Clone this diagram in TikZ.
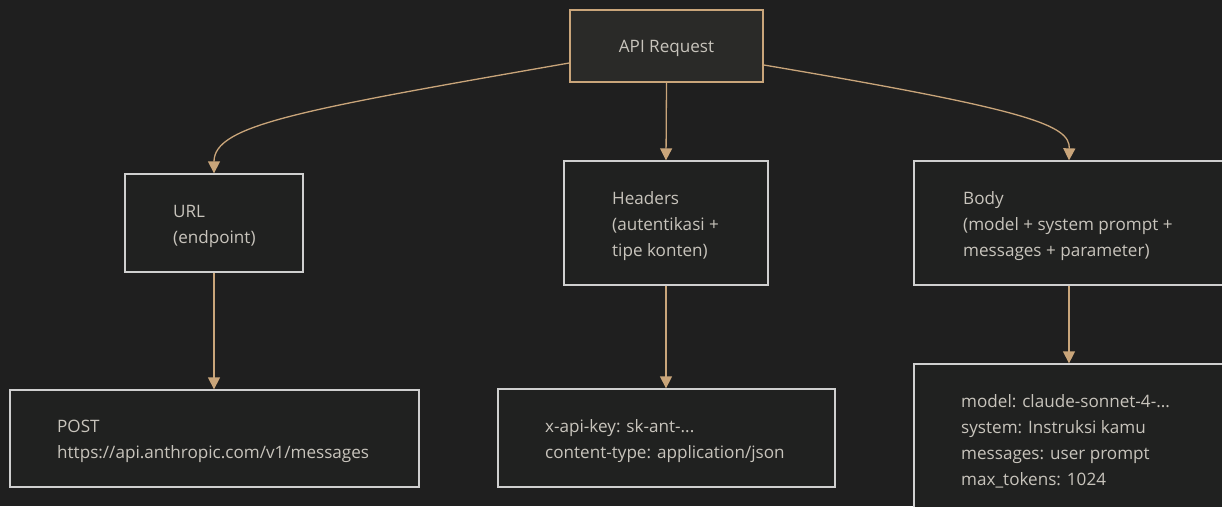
\documentclass[tikz,border=0pt]{standalone}
\usepackage{fontspec}
\setmainfont{Open Sans}
\usetikzlibrary{arrows.meta}
\definecolor{bg}{HTML}{1F1F1F}
\definecolor{topfill}{HTML}{2A2A28}
\definecolor{boxfill}{HTML}{202120}
\definecolor{tan}{HTML}{C9A57A}
\definecolor{boxline}{HTML}{CFCFCF}
\definecolor{txt}{HTML}{C8C4BC}
\begin{document}
\begin{tikzpicture}[x=1pt,y=-1pt,
  box/.style={draw=boxline, line width=1.3pt, fill=boxfill, inner sep=0pt},
  topbox/.style={draw=tan, line width=1.6pt, fill=topfill, inner sep=0pt},
  lbl/.style={text=txt, align=left, anchor=west, inner sep=0pt, font=\fontsize{17.1}{26}\selectfont},
  conn/.style={draw=tan, line width=1.3pt, -{Triangle[length=12pt,width=12pt]}}]
\fill[bg] (0,0) rectangle (1222,506);
\useasboundingbox (0,0) rectangle (1222,506);
% boxes
\node[topbox, minimum width=193pt, minimum height=72pt] (api) at (666.5,46) {};
\node[box, minimum width=178pt, minimum height=98pt] (url) at (214,223) {};
\node[box, minimum width=204pt, minimum height=124pt] (hdr) at (666,223) {};
\node[box, minimum width=310pt, minimum height=124pt] (body) at (1069,223) {};
\node[box, minimum width=409pt, minimum height=97pt] (post) at (214.5,438.5) {};
\node[box, minimum width=337pt, minimum height=98pt] (key) at (666.5,438) {};
\node[box, minimum width=310pt, minimum height=150pt] (model) at (1069,439) {};
% labels
\node[lbl, anchor=center] (apit) at (666.5,48.5) {API Request};
\node[lbl] (urlt) at (173,226.5) {URL\\(endpoint)};
\node[lbl] (hdrt) at (612,226) {Headers\\(autentikasi +\\tipe konten)};
\node[lbl] (bodyt) at (963,226) {Body\\(model + system prompt +\\messages + parameter)};
\node[lbl] (postt) at (57,441) {POST\\https://api.anthropic.com/v1/messages};
\node[lbl] (keyt) at (545,441) {x-api-key: sk-ant-...\\content-type: application/json};
\node[lbl] (modelt) at (961,441.5) {model: claude-sonnet-4-...\\system: Instruksi kamu\\messages: user prompt\\max\_tokens: 1024};
% connectors
\draw[conn] (api.south) -- (hdr.north);
\draw[conn] (api.west |- 0,63) .. controls (300,110) and (214,125) .. (url.north);
\draw[conn] (api.east |- 0,65) .. controls (1030,110) and (1070,125) .. (body.north);
\draw[conn] (url.south) -- (post.north -| url.south);
\draw[conn] (hdr.south) -- (key.north -| hdr.south);
\draw[conn] (body.south) -- (model.north);
\end{tikzpicture}
\end{document}
